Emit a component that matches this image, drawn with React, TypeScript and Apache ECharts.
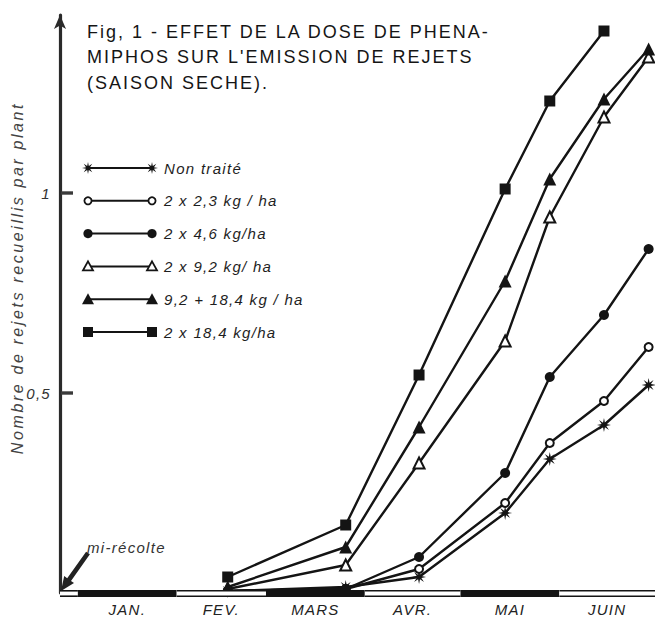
import React, { useEffect, useRef } from 'react';
import * as echarts from 'echarts';

// ---------- data ----------
const titleLines = ['Fig, 1 - EFFET DE LA DOSE DE PHENA-', "MIPHOS SUR L'EMISSION DE REJETS", '(SAISON SECHE).'];
const yAxisTitle = 'Nombre de rejets recueillis par plant';
const annotationText = 'mi-récolte';

const seriesNames = ['Non traité', '2 x 2,3 kg / ha', '2 x 4,6 kg/ha', '2 x 9,2 kg/ ha', '9,2 + 18,4 kg / ha', '2 x 18,4 kg/ha'];
// sampling dates, in days since 1 January
const sampleDays = [47, 84, 107, 134, 148, 165, 179];
const nonTraite = [0.005, 0.015, 0.04, 0.2, 0.335, 0.42, 0.52];
const dose23 = [0.005, 0.01, 0.06, 0.225, 0.375, 0.48, 0.615];
const dose46 = [0.005, 0.01, 0.09, 0.3, 0.54, 0.695, 0.86];
const dose92 = [0.01, 0.07, 0.325, 0.63, 0.94, 1.19, 1.34];
const dose92p184 = [0.015, 0.115, 0.415, 0.78, 1.035, 1.235, 1.36];
const dose184 = [0.04, 0.17, 0.545, 1.01, 1.23, 1.405];

const monthLabels = ['JAN.', 'FEV.', 'MARS', 'AVR.', 'MAI', 'JUIN'];
const monthStartDays = [0, 31, 59, 90, 120, 151, 181];
const yTickValues = [0.5, 1];

const X_MIN = -5.6;
const X_MAX = 181;
const Y_MAX = 1.445;

const seriesValues = [nonTraite, dose23, dose46, dose92, dose92p184, dose184];
const markerKinds = ['star', 'emptyCircle', 'circle', 'emptyTriangle', 'triangle', 'rect'];

const STAR_PTS: number[][] = [];
for (let k = 0; k < 16; k++) {
  const a = -Math.PI / 2 + (k * Math.PI) / 8;
  const r = k % 2 === 0 ? 10 : 3.6;
  STAR_PTS.push([Math.round(r * Math.cos(a) * 100) / 100, Math.round(r * Math.sin(a) * 100) / 100]);
}
const STAR_PATH = 'path://M' + STAR_PTS.map((p) => p[0] + ',' + p[1]).join('L') + 'Z';

const INK = '#141414';

function markerStyle(kind: string) {
  switch (kind) {
    case 'star':
      return { symbol: STAR_PATH, symbolSize: 14, itemStyle: { color: INK, borderWidth: 0 } };
    case 'emptyCircle':
      return { symbol: 'emptyCircle', symbolSize: 8, itemStyle: { color: INK, borderColor: INK, borderWidth: 1.8 } };
    case 'circle':
      return { symbol: 'circle', symbolSize: 10, itemStyle: { color: INK, borderWidth: 0 } };
    case 'emptyTriangle':
      return { symbol: 'emptyTriangle', symbolSize: 11, itemStyle: { color: INK, borderColor: INK, borderWidth: 1.8 } };
    case 'triangle':
      return { symbol: 'triangle', symbolSize: 13, itemStyle: { color: INK, borderWidth: 0 } };
    default:
      return { symbol: 'rect', symbolSize: 11, itemStyle: { color: INK, borderWidth: 0 } };
  }
}

function legendMarker(kind: string, cx: number, cy: number): any {
  switch (kind) {
    case 'star':
      return { type: 'polygon', shape: { points: STAR_PTS.map(([x, y]) => [cx + x * 0.6, cy + y * 0.6]) }, style: { fill: INK } };
    case 'emptyCircle':
      return { type: 'circle', shape: { cx, cy, r: 3.6 }, style: { fill: '#fff', stroke: INK, lineWidth: 1.8 } };
    case 'circle':
      return { type: 'circle', shape: { cx, cy, r: 4.6 }, style: { fill: INK } };
    case 'emptyTriangle':
      return { type: 'polygon', shape: { points: [[cx, cy - 5], [cx + 5, cy + 4], [cx - 5, cy + 4]] }, style: { fill: '#fff', stroke: INK, lineWidth: 1.8 } };
    case 'triangle':
      return { type: 'polygon', shape: { points: [[cx, cy - 6], [cx + 6, cy + 5], [cx - 6, cy + 5]] }, style: { fill: INK } };
    default:
      return { type: 'rect', shape: { x: cx - 5, y: cy - 5, width: 10, height: 10 }, style: { fill: INK } };
  }
}

function whiteSegment(x1: number, x2: number, y0: number): any {
  return {
    type: 'group',
    children: [
      { type: 'rect', shape: { x: x1, y: y0 - 3, width: x2 - x1, height: 7 }, style: { fill: '#fff' } },
      { type: 'line', shape: { x1, y1: y0 - 2.2, x2, y2: y0 - 2.2 }, style: { stroke: INK, lineWidth: 1.6 } },
      { type: 'line', shape: { x1, y1: y0 + 3.2, x2, y2: y0 + 3.2 }, style: { stroke: INK, lineWidth: 1.6 } },
    ],
  };
}

export default function App() {
  const ref = useRef<HTMLDivElement>(null);

  useEffect(() => {
    if (!ref.current) return;
    const chart = echarts.init(ref.current, undefined, { renderer: 'svg' });

    const legendGraphics: any[] = [];
    const LX1 = 88;
    const LX2 = 152;
    const LTX = 164;
    const LTOP = 168;
    const LSTEP = 32.8;
    seriesNames.forEach((name, i) => {
      const y = LTOP + i * LSTEP;
      legendGraphics.push({ type: 'line', shape: { x1: LX1, y1: y, x2: LX2, y2: y }, style: { stroke: INK, lineWidth: 2 } });
      legendGraphics.push(legendMarker(markerKinds[i], LX1, y));
      legendGraphics.push(legendMarker(markerKinds[i], LX2, y));
      legendGraphics.push({
        type: 'text',
        x: LTX,
        y,
        style: { text: name, font: 'italic 15px "Liberation Sans"', fill: '#1e1e1e', verticalAlign: 'middle', align: 'left' },
      });
    });

    const lineSeries = seriesNames.map((name, i) => ({
      type: 'line',
      name,
      data: seriesValues[i].map((v, j) => [sampleDays[j], v]),
      ...markerStyle(markerKinds[i]),
      showSymbol: true,
      lineStyle: { color: INK, width: 2.4 },
      emphasis: { disabled: true },
      z: 3,
    }));

    const option: any = {
      animation: false,
      backgroundColor: '#fff',
      grid: { left: 60, right: 0, top: 15, bottom: 24 },
      xAxis: { type: 'value', min: X_MIN, max: X_MAX, show: false },
      yAxis: {
        type: 'value',
        min: 0,
        max: Y_MAX,
        interval: 0.5,
        axisLine: {
          show: true,
          onZero: false,
          symbol: ['none', 'arrow'],
          symbolSize: [9, 14],
          lineStyle: { color: '#2a2a2a', width: 3.2 },
        },
        axisTick: { show: false },
        axisLabel: {
          customValues: yTickValues,
          formatter: (v: number) => String(v).replace('.', ','),
          fontStyle: 'italic',
          fontSize: 15,
          fontFamily: 'Liberation Sans',
          color: '#333',
          margin: 9,
        },
        splitLine: { show: false },
      },
      series: [
        {
          type: 'custom',
          silent: true,
          clip: false,
          z: 4,
          encode: { x: [0, 1], y: 2 },
          data: monthLabels.map((m, i) => [monthStartDays[i], monthStartDays[i + 1], 0, i]),
          renderItem: (params: any, api: any) => {
            const i = api.value(3);
            const s = api.coord([api.value(0), 0]);
            const e = api.coord([api.value(1), 0]);
            const y0 = s[1];
            const children: any[] = [];
            if (i === 0) {
              const a = api.coord([X_MIN, 0]);
              children.push(whiteSegment(a[0], s[0], y0));
              yTickValues.forEach((v) => {
                const t = api.coord([X_MIN, v]);
                children.push({
                  type: 'rect',
                  shape: { x: t[0] + 1, y: t[1] - 1.7, width: 12, height: 3.4 },
                  style: { fill: '#3a3a3a' },
                });
              });
            }
            if (i % 2 === 0) {
              children.push({ type: 'rect', shape: { x: s[0], y: y0 - 3, width: e[0] - s[0], height: 7 }, style: { fill: INK } });
            } else {
              children.push(whiteSegment(s[0], e[0], y0));
            }
            children.push({
              type: 'text',
              style: {
                text: monthLabels[i],
                x: (s[0] + e[0]) / 2,
                y: y0 + 16,
                align: 'center',
                verticalAlign: 'middle',
                font: 'italic 15px "Liberation Sans"',
                fill: '#222',
              },
            });
            return { type: 'group', children };
          },
        },
        ...lineSeries,
      ],
      graphic: [
        {
          type: 'text',
          x: 87,
          y: 19,
          style: { text: titleLines.join('\n'), font: '18px "Liberation Sans"', lineHeight: 25.5, fill: '#151515' },
        },
        {
          type: 'text',
          x: 17,
          y: 278,
          rotation: Math.PI / 2,
          style: { text: yAxisTitle, font: 'italic 16px "Liberation Sans"', fill: '#444', align: 'center', verticalAlign: 'middle' },
        },
        {
          type: 'text',
          x: 87,
          y: 547,
          style: { text: annotationText, font: 'italic 15px "Liberation Sans"', fill: '#333', verticalAlign: 'middle' },
        },
        {
          type: 'polygon',
          z: 5,
          shape: {
            points: [
              [89.9, 554.3],
              [71.0, 580.9],
              [74.0, 583.1],
              [61, 591],
              [64.2, 576.1],
              [67.2, 578.3],
              [86.1, 551.7],
            ],
          },
          style: { fill: '#222' },
        },
        ...legendGraphics,
      ],
    };

    chart.setOption(option);
    return () => chart.dispose();
  }, []);

  return (
    <>
      <style>{`
        #rchart svg text { letter-spacing: 1.3px; }
        #rchart svg text[style*="18px"] { letter-spacing: 2px; }
        #rchart svg text[style*="16px"] { letter-spacing: 2.6px; }
      `}</style>
      <div id="rchart" ref={ref} style={{ position: 'absolute', left: 0, top: 0, width: 655, height: 617, background: '#fff' }} />
    </>
  );
}
